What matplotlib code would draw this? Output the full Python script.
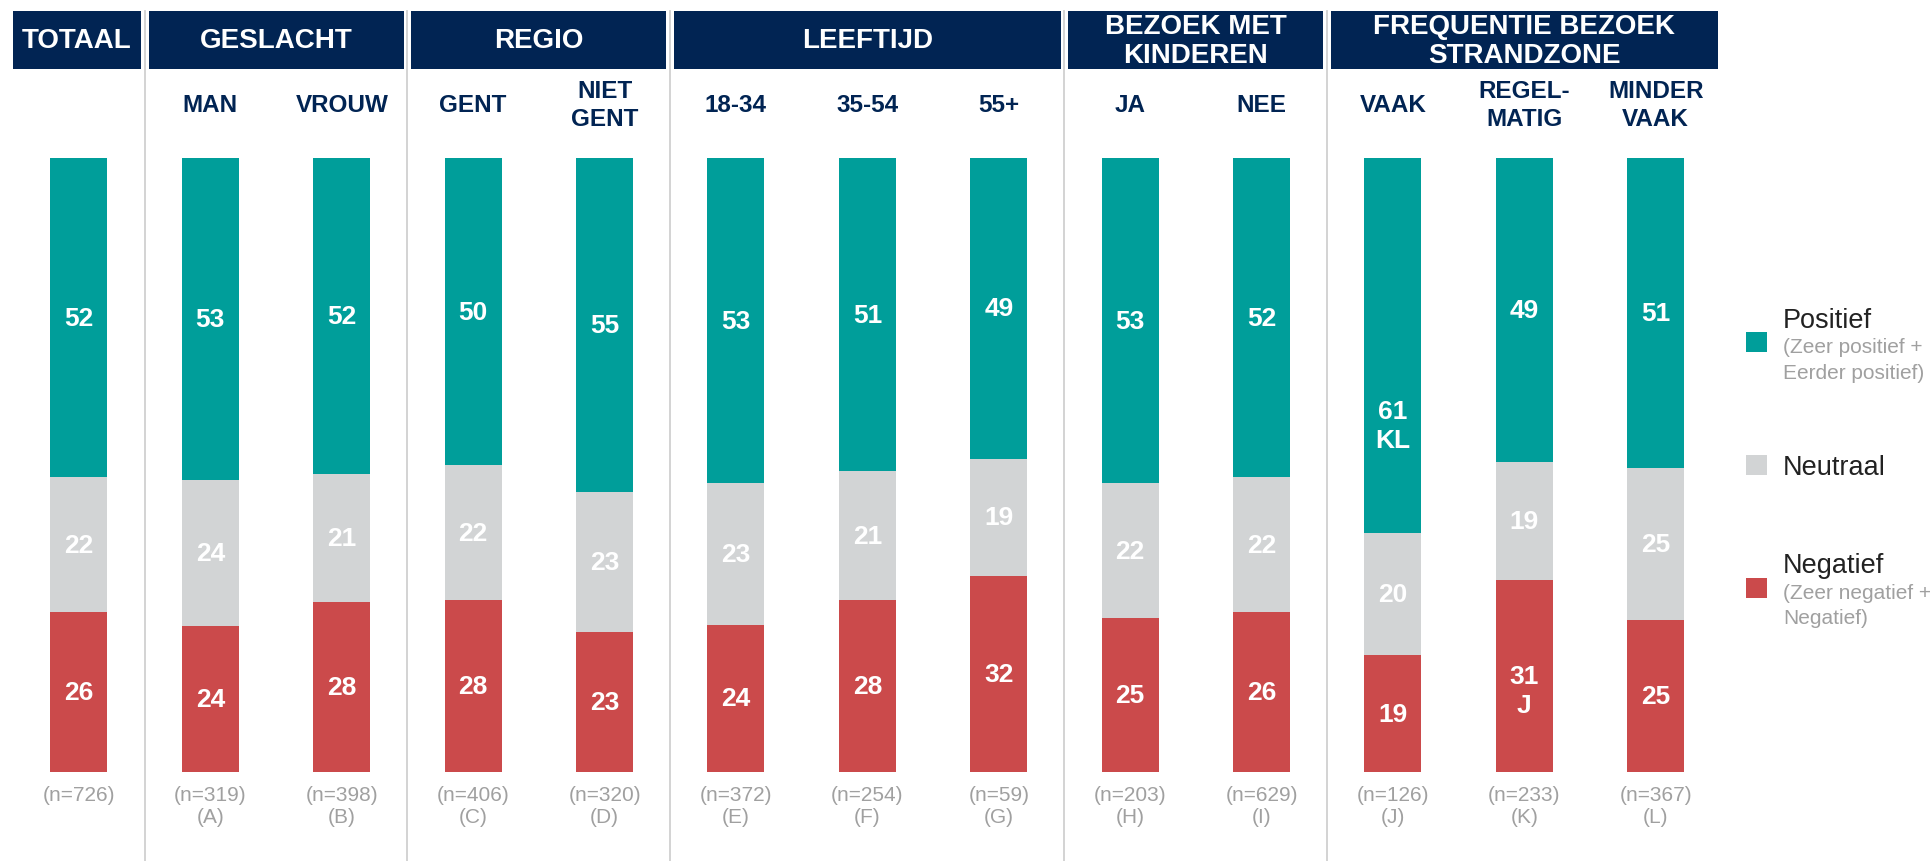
import matplotlib.pyplot as plt
from matplotlib.patches import Rectangle

plt.rcParams['font.family'] = ['Liberation Sans', 'DejaVu Sans']

# groups and their number of bars
groups = ["TOTAAL", "GESLACHT", "REGIO", "LEEFTIJD", "BEZOEK MET\nKINDEREN",
          "FREQUENTIE BEZOEK\nSTRANDZONE"]
group_sizes = [1, 2, 2, 3, 2, 3]

categories = ["", "MAN", "VROUW", "GENT", "NIET\nGENT", "18-34", "35-54", "55+",
              "JA", "NEE", "VAAK", "REGEL-\nMATIG", "MINDER\nVAAK"]
n_values = [726, 319, 398, 406, 320, 372, 254, 59, 203, 629, 126, 233, 367]
letters = ["", "A", "B", "C", "D", "E", "F", "G", "H", "I", "J", "K", "L"]

positief = [52, 53, 52, 50, 55, 53, 51, 49, 53, 52, 61, 49, 51]
neutraal = [22, 24, 21, 22, 23, 23, 21, 19, 22, 22, 20, 19, 25]
negatief = [26, 24, 28, 28, 23, 24, 28, 32, 25, 26, 19, 31, 25]
sig_pos = ["", "", "", "", "", "", "", "", "", "", "KL", "", ""]
sig_neg = ["", "", "", "", "", "", "", "", "", "", "", "J", ""]

TEAL = "#009E9A"
GREY = "#D2D4D5"
RED = "#CB4A4B"
NAVY = "#012453"
SEP = "#D0D0D0"

fig = plt.figure(figsize=(19.33, 8.62), dpi=100)
ax = fig.add_axes([0, 0, 1, 1])
ax.set_xlim(-0.601, 14.11)
ax.set_ylim(-14.5, 125.9)
ax.axis('off')

x = list(range(len(categories)))
tot = [p + n + g for p, n, g in zip(positief, neutraal, negatief)]
neg = [v / t * 100 for v, t in zip(negatief, tot)]
neu = [v / t * 100 for v, t in zip(neutraal, tot)]
pos = [v / t * 100 for v, t in zip(positief, tot)]
w = 0.434

ax.bar(x, neg, w, color=RED)
ax.bar(x, neu, w, bottom=neg, color=GREY)
ax.bar(x, pos, w, bottom=[a + b for a, b in zip(neg, neu)], color=TEAL)

lbl = dict(ha='center', va='center', color='white', fontsize=19, fontweight='bold')
step = 4.8
for i in x:
    # negatief
    yc = neg[i] / 2
    ax.text(i, yc, str(negatief[i]), **lbl)
    if sig_neg[i]:
        ax.text(i, yc - step, sig_neg[i], **lbl)
    # neutraal
    ax.text(i, neg[i] + neu[i] / 2, str(neutraal[i]), **lbl)
    # positief
    yc = neg[i] + neu[i] + pos[i] / 2
    if sig_pos[i]:
        yc -= 10.7
        ax.text(i, yc - step, sig_pos[i], **lbl)
    ax.text(i, yc, str(positief[i]), **lbl)

    ax.text(i, 108.7, categories[i], ha='center', va='center', color=NAVY,
            fontsize=17.5, fontweight='bold', linespacing=1.3)
    ax.text(i, -3.6, f"(n={n_values[i]})", ha='center', va='center',
            color="#A0A0A0", fontsize=15)
    if letters[i]:
        ax.text(i, -7.3, f"({letters[i]})", ha='center', va='center',
                color="#A0A0A0", fontsize=15)

# headers and separators
start = 0
for g, size in zip(groups, group_sizes):
    left = start - 0.5 + 0.03
    right = start + size - 1 + 0.5 - 0.03
    if start == 0:
        left = -0.5
    ax.add_patch(Rectangle((left, 114.5), right - left, 9.4, color=NAVY, lw=0))
    ax.text((left + right) / 2, 119.2, g, ha='center', va='center', color='white',
            fontsize=20, fontweight='bold', linespacing=1.15)
    if start > 0:
        ax.plot([start - 0.5, start - 0.5], [123.9, -14.5], color=SEP, lw=1.3)
    start += size

# legend
legend_items = [
    ("Positief", "(Zeer positief +", "Eerder positief)", TEAL, 70),
    ("Neutraal", "", "", GREY, 50),
    ("Negatief", "(Zeer negatief +", "Negatief)", RED, 30),
]
for name, sub1, sub2, col, yc in legend_items:
    ax.add_patch(Rectangle((12.686, yc - 1.63), 0.16, 3.26, color=col, lw=0))
    if sub1:
        ax.text(12.968, yc + 2.5, name, ha='left', va='baseline', color="#222222", fontsize=19.5)
        ax.text(12.968, yc - 1.6, sub1, ha='left', va='baseline', color="#A0A0A0", fontsize=15)
        ax.text(12.968, yc - 5.8, sub2, ha='left', va='baseline', color="#A0A0A0", fontsize=15)
    else:
        ax.text(12.968, yc - 1.5, name, ha='left', va='baseline', color="#222222", fontsize=19.5)

fig.savefig("out.png", dpi=100)
